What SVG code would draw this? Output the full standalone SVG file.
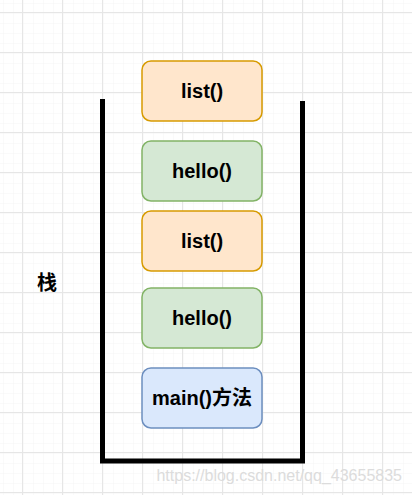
<svg xmlns="http://www.w3.org/2000/svg" width="412" height="495" viewBox="0 0 412 495">
<style>
.box{stroke-width:1.5}
.lbl{font-family:"Liberation Sans",Arial,"Noto Sans CJK SC",sans-serif;font-weight:bold;font-size:20px;fill:#000;text-anchor:middle}
.orange{fill:#ffe6cc;stroke:#d79b00}
.green{fill:#d5e8d4;stroke:#82b366}
.blue{fill:#dae8fc;stroke:#6c8ebf}
</style>
<defs>
<pattern id="minor" x="2" y="2" width="10" height="10" patternUnits="userSpaceOnUse">
<path d="M10 0V10M0 10H10" fill="none" stroke="#f4f4f4" stroke-width="1"/>
</pattern>
<pattern id="major" x="22" y="12" width="40" height="40" patternUnits="userSpaceOnUse">
<rect width="40" height="40" fill="url(#minor)"/>
<path d="M0.5 0V40M0 0.5H40" fill="none" stroke="#e6e6e6" stroke-width="1"/>
</pattern>
</defs>
<rect width="412" height="495" fill="#fff"/>
<rect width="412" height="495" fill="url(#major)"/>
<g id="stack">
<path d="M102.5 99V461H302.5V101" fill="none" stroke="#000" stroke-width="5"/>
</g>
<g id="stack-label">
<text class="lbl" x="47" y="290">栈</text>
</g>
<g id="node-list1">
<rect class="box orange" x="142" y="61" width="120" height="60" rx="9"/>
<text class="lbl" x="202" y="98">list()</text>
</g>
<g id="node-hello1">
<rect class="box green" x="142" y="141" width="120" height="60" rx="9"/>
<text class="lbl" x="202" y="178">hello()</text>
</g>
<g id="node-list2">
<rect class="box orange" x="142" y="211" width="120" height="60" rx="9"/>
<text class="lbl" x="202" y="248">list()</text>
</g>
<g id="node-hello2">
<rect class="box green" x="142" y="288" width="120" height="60" rx="9"/>
<text class="lbl" x="202" y="325">hello()</text>
</g>
<g id="node-main">
<rect class="box blue" x="142" y="368" width="120" height="60" rx="9"/>
<text class="lbl" x="202" y="405">main()方法</text>
</g>
<g id="connectors"></g>
<text x="402" y="481" text-anchor="end" font-family="'Liberation Sans',Arial,sans-serif" font-size="16" fill="#dcdcdc">https://blog.csdn.net/qq_43655835</text>
</svg>
